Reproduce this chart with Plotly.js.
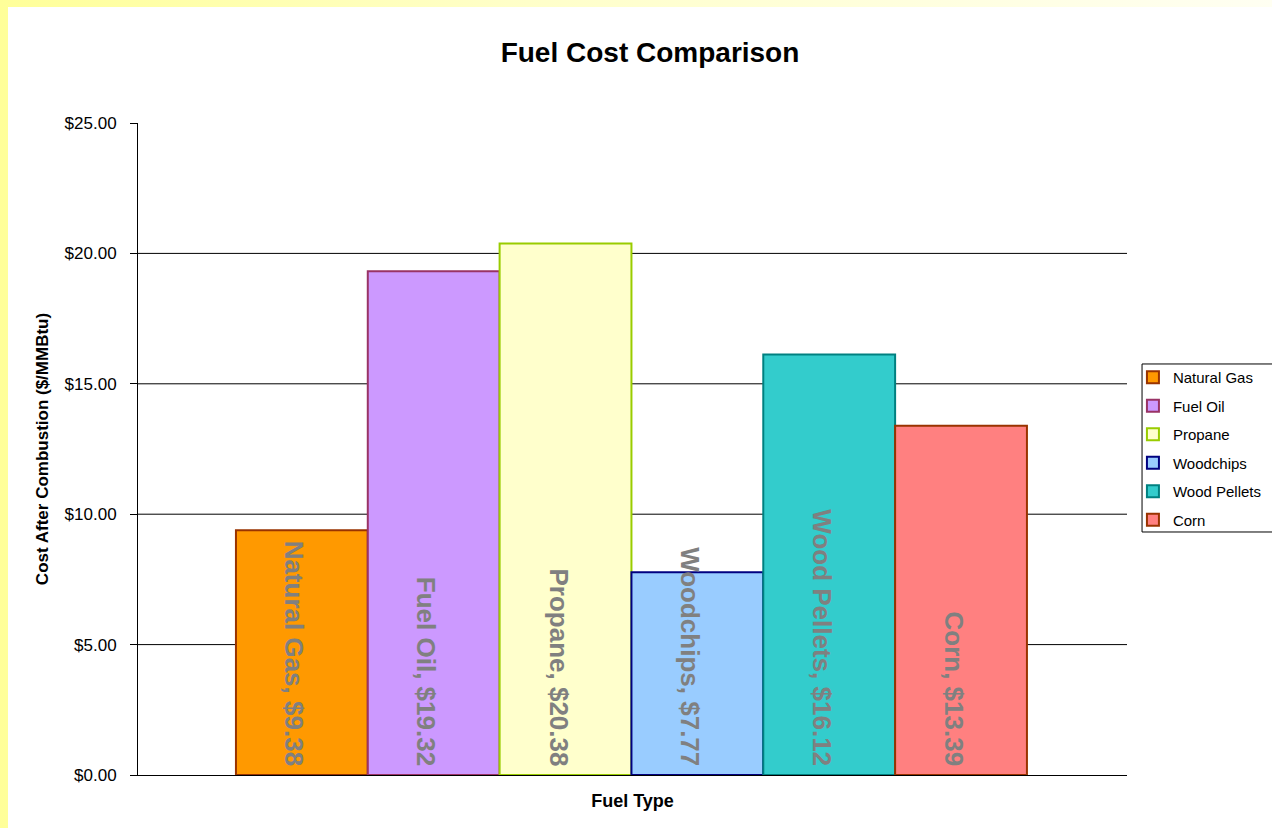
<!DOCTYPE html>
<html>
<head>
<meta charset="utf-8">
<script src="https://cdn.plot.ly/plotly-3.0.1.min.js"></script>
<style>
  html, body { margin: 0; padding: 0; width: 1272px; height: 828px; overflow: hidden;
    background: linear-gradient(to right, #FFFF99 0%, #FFFFC8 40%, #FFFFF2 100%); }
  #chart { position: absolute; left: 8px; top: 7px; width: 1264px; height: 821px; background: #fff; }
</style>
</head>
<body>
<div id="chart"></div>
<script>
const fuels = ['Natural Gas', 'Fuel Oil', 'Propane', 'Woodchips', 'Wood Pellets', 'Corn'];
const costs = [9.38, 19.32, 20.38, 7.77, 16.12, 13.39];
const fillColors = ['#FF9900', '#CC99FF', '#FFFFCC', '#99CCFF', '#33CCCC', '#FF8080'];
const lineColors = ['#993300', '#993366', '#99CC00', '#000080', '#008080', '#993300'];
const yTicks = [0, 5, 10, 15, 20, 25];
const yTickText = yTicks.map(v => '$' + v.toFixed(2));
const gridVals = [5, 10, 15, 20];

const FONT = 'Arial, "Liberation Sans", sans-serif';

const traces = fuels.map((f, i) => ({
  type: 'bar',
  name: f,
  x: [i],
  y: [costs[i]],
  width: 1,
  legendgroup: 'g' + i,
  marker: { color: fillColors[i], line: { color: lineColors[i], width: 2 } },
  hoverinfo: 'skip'
}));

const annotations = fuels.map((f, i) => ({
  x: i, y: 0, xref: 'x', yref: 'y',
  text: f + ', $' + costs[i].toFixed(2),
  showarrow: false,
  textangle: 90,
  xanchor: 'center', yanchor: 'bottom',
  yshift: 7, xshift: -7,
  font: { family: FONT, size: 26, color: '#808080', weight: 'bold' }
}));

const shapes = gridVals.map(v => ({
  type: 'line', xref: 'paper', yref: 'y', x0: 0, x1: 1, y0: v, y1: v,
  line: { color: '#000', width: 1 }, layer: 'below'
}));
// legend frame (open at the right edge, as in the reference)
shapes.push({
  type: 'rect', xref: 'paper', yref: 'paper',
  x0: 1.0152, x1: 1.2, y0: 0.3727, y1: 0.6304,
  line: { color: '#000', width: 1 }, fillcolor: 'rgba(0,0,0,0)', layer: 'above'
});

const layout = {
  width: 1264, height: 821,
  margin: { l: 130, r: 145, t: 116, b: 53, autoexpand: false },
  paper_bgcolor: '#fff', plot_bgcolor: '#fff',
  font: { family: FONT, color: '#000' },
  title: { text: '<b>Fuel Cost Comparison</b>', x: 642/1264, xanchor: 'center', xref: 'container',
           y: 1 - 45/821, yanchor: 'middle', yref: 'container',
           font: { size: 28, color: '#000' } },
  barmode: 'overlay',
  showlegend: true,
  legend: { x: 1.006, y: 0.635, xanchor: 'left', yanchor: 'top', borderwidth: 0,
            font: { size: 15, color: '#000' }, tracegroupgap: 6, bgcolor: 'rgba(0,0,0,0)' },
  xaxis: {
    range: [-1.243, 6.259], showticklabels: false, showgrid: false, zeroline: false,
    showline: true, linecolor: '#000', linewidth: 1, ticks: '', fixedrange: true,
    title: { text: '<b>Fuel Type</b>', font: { size: 18, color: '#000' }, standoff: 19 }
  },
  yaxis: {
    range: [0, 25], tickmode: 'array', tickvals: yTicks, ticktext: yTickText,
    showgrid: false, zeroline: false, showline: true, linecolor: '#000', linewidth: 1,
    ticks: 'outside', ticklen: 7, tickcolor: '#000', ticklabelstandoff: 10,
    tickfont: { size: 17, color: '#000' },
    title: { text: '<b>Cost After Combustion ($/MMBtu)</b>', font: { size: 17, color: '#000' }, standoff: 11 }
  },
  annotations: annotations,
  shapes: shapes
};

Plotly.newPlot('chart', traces, layout, { displayModeBar: false, staticPlot: true });
</script>
</body>
</html>
